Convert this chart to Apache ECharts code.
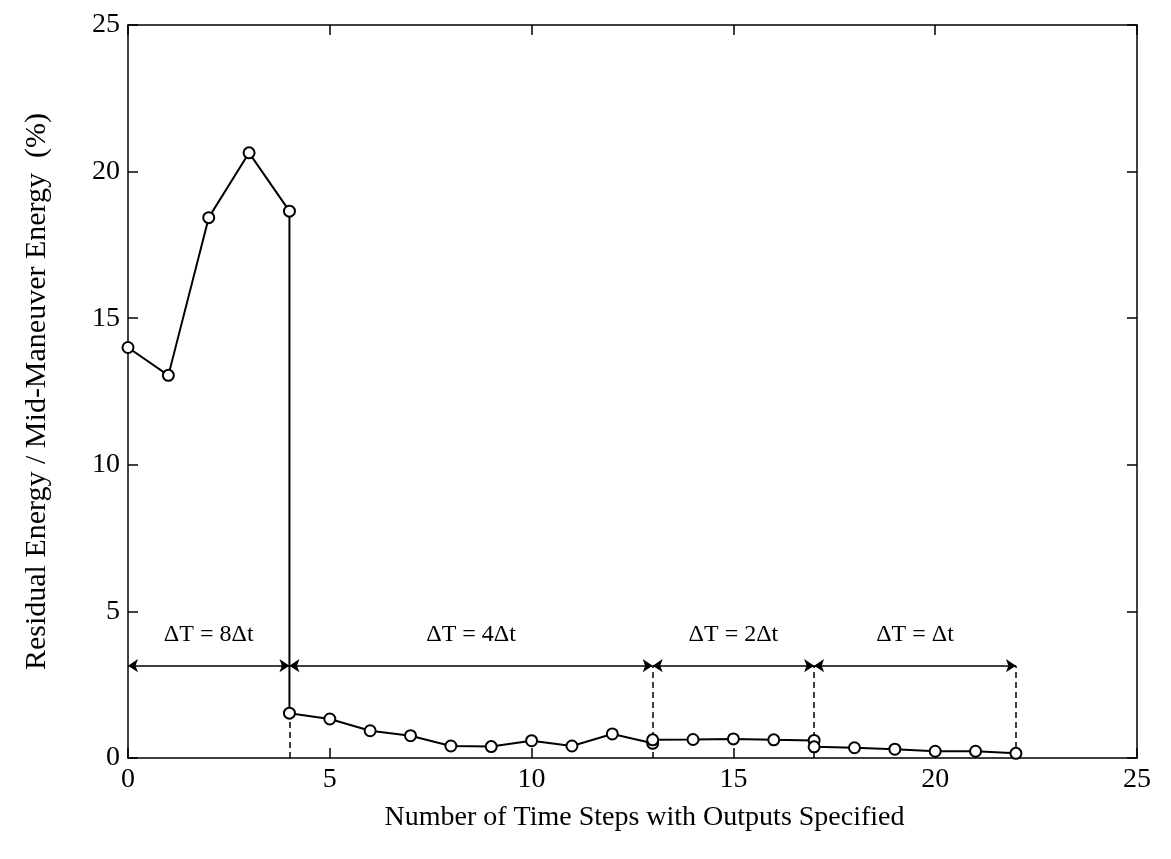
<!DOCTYPE html>
<html>
<head>
<meta charset="utf-8">
<script src="https://cdn.jsdelivr.net/npm/echarts@6/dist/echarts.min.js"></script>
<style>
html,body{margin:0;padding:0;background:#fff;}
#chart{width:1171px;height:859px;}
</style>
</head>
<body>
<div id="chart"></div>
<script>
// Data
const steps    = [0, 1, 2, 3, 4, 4, 5, 6, 7, 8, 9, 10, 11, 12, 13, 13, 14, 15, 16, 17, 17, 18, 19, 20, 21, 22];
const residual = [14.0, 13.05, 18.43, 20.64, 18.65, 1.53, 1.33, 0.93, 0.76, 0.41, 0.39, 0.59, 0.41, 0.82, 0.5, 0.62, 0.63, 0.65, 0.62, 0.6, 0.38, 0.35, 0.3, 0.23, 0.23, 0.16];
const intervalBounds = [0, 4, 13, 17, 22];
const intervalLabels = ['ΔT = 8Δt', 'ΔT = 4Δt', 'ΔT = 2Δt', 'ΔT = Δt'];
const arrowLevel = 3.15;
const labelLevel = 4.2;
const xTicks = [0, 5, 10, 15, 20, 25];
const yTicks = [0, 5, 10, 15, 20, 25];

const FONT = 'Liberation Serif';
const chart = echarts.init(document.getElementById('chart'));

const lineData = steps.map((s, i) => [s, residual[i]]);

// arrows between interval bounds
const arrowLines = [];
for (let i = 0; i < intervalBounds.length - 1; i++) {
  arrowLines.push([{coord: [intervalBounds[i], arrowLevel]}, {coord: [intervalBounds[i + 1], arrowLevel]}]);
}
// dashed vertical lines at interval bounds
const dashLines = [];
for (let i = 1; i < intervalBounds.length; i++) {
  const b = intervalBounds[i];
  let top = arrowLevel;
  if (i === 1) {
    const idx = steps.lastIndexOf(b);
    top = residual[idx];
  }
  dashLines.push([{coord: [b, 0]}, {coord: [b, top]}]);
}
const labelData = intervalLabels.map((t, i) => ({
  value: [(intervalBounds[i] + intervalBounds[i + 1]) / 2, labelLevel],
  name: t
}));

function axisBase() {
  return {
    type: 'value',
    min: 0, max: 25, interval: 5,
    axisLine: {show: true, onZero: false, lineStyle: {color: '#000', width: 1.5}},
    axisTick: {show: true, inside: true, length: 10, lineStyle: {color: '#000', width: 1.5}},
    splitLine: {show: false}
  };
}

chart.setOption({
  backgroundColor: '#fff',
  animation: false,
  grid: {left: 128, right: 34, top: 25, bottom: 101, show: false},
  xAxis: [
    Object.assign(axisBase(), {
      position: 'bottom',
      name: 'Number of Time Steps with Outputs Specified',
      nameLocation: 'middle', nameGap: 46,
      nameTextStyle: {fontFamily: FONT, fontSize: 28, color: '#000', padding: [0, 0, 0, 24]},
      axisLabel: {fontFamily: FONT, fontSize: 28, color: '#000', margin: 8,
        formatter: v => xTicks.includes(v) ? String(v) : ''}
    }),
    Object.assign(axisBase(), {position: 'top', axisLabel: {show: false}})
  ],
  yAxis: [
    Object.assign(axisBase(), {
      position: 'left',
      name: 'Residual Energy / Mid-Maneuver Energy  (%)',
      nameLocation: 'middle', nameGap: 76,
      nameTextStyle: {fontFamily: FONT, fontSize: 30, color: '#000'},
      axisLabel: {fontFamily: FONT, fontSize: 28, color: '#000', margin: 8,
        formatter: v => yTicks.includes(v) ? String(v) : ''}
    }),
    Object.assign(axisBase(), {position: 'right', axisLabel: {show: false}})
  ],
  series: [
    {
      type: 'line',
      data: lineData,
      symbol: 'emptyCircle',
      symbolSize: 11,
      showAllSymbol: true,
      lineStyle: {color: '#000', width: 2},
      itemStyle: {color: '#000', borderColor: '#000', borderWidth: 2},
      z: 5
    },
    {
      type: 'line',
      data: [],
      markLine: {
        silent: true,
        symbol: ['arrow', 'arrow'],
        symbolSize: 10,
        label: {show: false},
        lineStyle: {color: '#000', width: 1.5, type: 'solid'},
        data: arrowLines
      }
    },
    {
      type: 'line',
      data: [],
      markLine: {
        silent: true,
        symbol: ['none', 'none'],
        label: {show: false},
        lineStyle: {color: '#000', width: 1.5, type: [6, 4]},
        data: dashLines
      }
    },
    {
      type: 'scatter',
      data: labelData,
      symbolSize: 0,
      silent: true,
      itemStyle: {opacity: 1},
      label: {
        show: true, position: 'inside',
        formatter: p => p.name,
        fontFamily: FONT, fontSize: 24, color: '#000', textBorderWidth: 0
      }
    }
  ]
});
</script>
</body>
</html>
